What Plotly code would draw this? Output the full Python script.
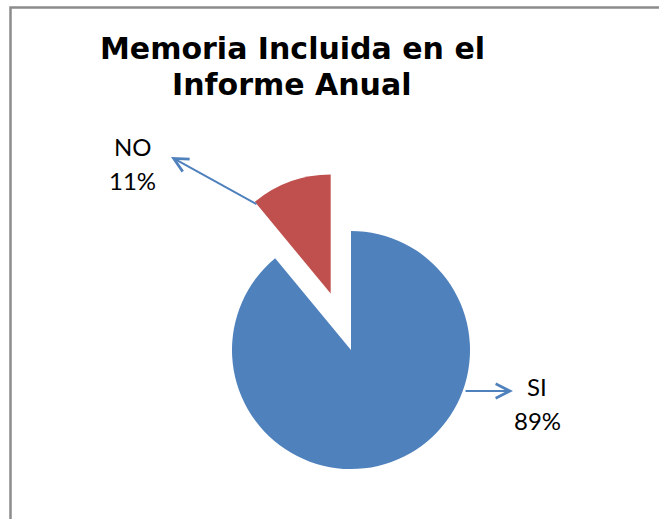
import math
import plotly.graph_objects as go

# ---- data ----
labels = ["SI", "NO"]
values = [89, 11]
colors = ["#4F81BD", "#C0504D"]
title_lines = ["Memoria Incluida en el", "Informe Anual"]

W, H = 659, 519
OFF = 0  # body margin removed via post_script
FW, FH = W - OFF, H - OFF

def px(x):
    return (x - OFF) / FW

def py(y):
    return 1 - (y - OFF) / FH

# pie geometry (pixels, window coords)
cx, cy, r = 351, 350, 119
pull_px = 60

total = sum(values)
# bisector angle of the exploded slice (NO), clockwise from 12 o'clock
start_no = 360 * values[0] / total
mid_no = math.radians(start_no + 360 * values[1] / total / 2)
ncx = cx + pull_px * math.sin(mid_no)
ncy = cy - pull_px * math.cos(mid_no)

def dom(x0, y0):
    return dict(x=[px(x0 - r), px(x0 + r)], y=[py(y0 + r), py(y0 - r)])

transparent = "rgba(0,0,0,0)"

fig = go.Figure()
fig.add_trace(go.Pie(
    labels=labels, values=values, sort=False, direction="clockwise", rotation=0,
    marker=dict(colors=[colors[0], transparent], line=dict(width=0)),
    textinfo="none", hoverinfo="skip", showlegend=False, domain=dom(cx, cy),
))
fig.add_trace(go.Pie(
    labels=labels, values=values, sort=False, direction="clockwise", rotation=0,
    marker=dict(colors=[transparent, colors[1]], line=dict(width=0)),
    textinfo="none", hoverinfo="skip", showlegend=False, domain=dom(ncx, ncy),
))

annotations = []
# title
for txt, yc in zip(title_lines, [49, 85]):
    annotations.append(dict(
        text=txt, x=px(292), y=py(yc), xref="paper", yref="paper",
        xanchor="center", yanchor="middle", showarrow=False,
        font=dict(family="DejaVu Sans", size=30, color="#000000", weight="bold"),
    ))

lab_font = dict(family="Lato", size=24, color="#000000")
pct = [f"{round(100 * v / total)}%" for v in values]
# SI label
annotations.append(dict(text=labels[0], x=px(537), y=py(386), xref="paper", yref="paper",
                        showarrow=False, font=lab_font, xanchor="center", yanchor="middle"))
annotations.append(dict(text=pct[0], x=px(537), y=py(420), xref="paper", yref="paper",
                        showarrow=False, font=lab_font, xanchor="center", yanchor="middle"))
# NO label
annotations.append(dict(text=labels[1], x=px(133), y=py(146), xref="paper", yref="paper",
                        showarrow=False, font=lab_font, xanchor="center", yanchor="middle"))
annotations.append(dict(text=pct[1], x=px(132), y=py(180), xref="paper", yref="paper",
                        showarrow=False, font=lab_font, xanchor="center", yanchor="middle"))

# leader arrows
arrow_style = dict(showarrow=True, arrowhead=5, arrowsize=1.4, arrowwidth=2,
                   arrowcolor="#4F81BD", xref="paper", yref="paper", text="",
                   standoff=0, startstandoff=0)
annotations.append(dict(x=px(171), y=py(157), ax=87, ay=48, **arrow_style))
annotations.append(dict(x=px(513), y=py(391), ax=-49, ay=0, **arrow_style))

fig.update_layout(
    width=FW, height=FH,
    margin=dict(l=0, r=0, t=0, b=0),
    paper_bgcolor="#FFFFFF", plot_bgcolor="#FFFFFF",
    annotations=annotations,
    shapes=[dict(type="rect", xref="paper", yref="paper",
                 x0=px(10.5), y0=py(H + 20), x1=px(W + 20), y1=py(7.5),
                 line=dict(color="#8C8C8C", width=2.5), fillcolor="rgba(0,0,0,0)",
                 layer="below")],
)

fig.write_html(
    "out.html",
    config={"displayModeBar": False},
    post_script="document.body.style.margin='0';document.body.style.overflow='hidden';",
)
